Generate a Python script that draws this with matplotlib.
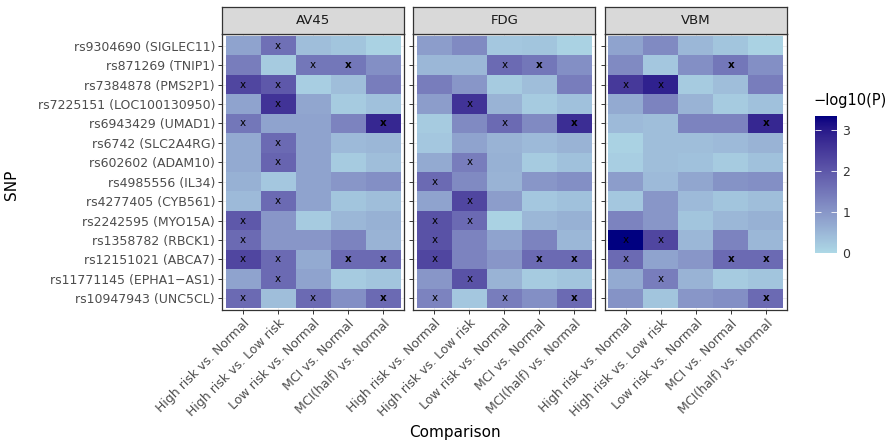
import numpy as np
import matplotlib
matplotlib.use('Agg')
import matplotlib.pyplot as plt
from matplotlib.colors import ListedColormap, Normalize
from matplotlib.colorbar import ColorbarBase

snps = ['rs9304690 (SIGLEC11)', 'rs871269 (TNIP1)', 'rs7384878 (PMS2P1)',
        'rs7225151 (LOC100130950)', 'rs6943429 (UMAD1)', 'rs6742 (SLC2A4RG)',
        'rs602602 (ADAM10)', 'rs4985556 (IL34)', 'rs4277405 (CYB561)',
        'rs2242595 (MYO15A)', 'rs1358782 (RBCK1)', 'rs12151021 (ABCA7)',
        'rs11771145 (EPHA1\u2212AS1)', 'rs10947943 (UNC5CL)']
comparisons = ['High risk vs. Normal', 'High risk vs. Low risk', 'Low risk vs. Normal',
               'MCI vs. Normal', 'MCI(half) vs. Normal']
panels = ['AV45', 'FDG', 'VBM']

# -log10(P), rows in snps order (top to bottom), columns in comparisons order
av45 = [[0.8, 1.6, 0.4, 0.3, 0.1],
        [1.4, 0.2, 1.5, 1.5, 1.1],
        [2.3, 2.0, 0.15, 0.4, 1.4],
        [0.8, 2.6, 0.75, 0.2, 0.35],
        [1.5, 0.8, 0.8, 1.3, 2.8],
        [0.7, 1.7, 0.8, 0.45, 0.5],
        [0.7, 1.8, 0.8, 0.2, 0.4],
        [0.6, 0.25, 0.8, 1.0, 1.1],
        [0.45, 1.7, 0.8, 0.3, 0.4],
        [2.0, 1.0, 0.2, 0.5, 0.6],
        [1.7, 1.0, 1.0, 1.3, 0.55],
        [2.3, 1.7, 0.7, 1.7, 1.7],
        [0.8, 1.7, 0.8, 0.2, 0.3],
        [1.7, 0.4, 1.7, 1.1, 1.7]]
fdg = [[0.9, 1.2, 0.25, 0.3, 0.1],
       [0.5, 0.5, 1.7, 1.5, 1.1],
       [1.4, 1.0, 0.2, 0.4, 1.4],
       [0.9, 2.6, 0.55, 0.2, 0.35],
       [0.2, 1.2, 1.7, 1.2, 2.7],
       [0.25, 0.8, 0.55, 0.45, 0.55],
       [0.7, 1.4, 0.6, 0.2, 0.35],
       [1.7, 1.2, 0.55, 1.0, 1.1],
       [0.8, 2.3, 0.9, 0.25, 0.35],
       [2.1, 1.7, 0.1, 0.5, 0.6],
       [2.1, 1.3, 0.8, 1.3, 0.5],
       [2.3, 1.3, 1.0, 1.7, 1.7],
       [1.0, 2.1, 0.55, 0.2, 0.3],
       [1.3, 0.25, 1.4, 1.1, 1.7]]
vbm = [[0.8, 1.2, 0.5, 0.3, 0.1],
       [1.2, 0.25, 1.1, 1.5, 1.1],
       [2.5, 2.9, 0.2, 0.4, 1.4],
       [0.7, 1.3, 0.55, 0.2, 0.35],
       [0.45, 0.4, 1.3, 1.3, 2.8],
       [0.1, 0.4, 0.4, 0.45, 0.55],
       [0.15, 0.4, 0.35, 0.2, 0.35],
       [0.9, 0.45, 0.75, 1.05, 1.1],
       [0.25, 1.0, 0.45, 0.3, 0.4],
       [1.3, 1.0, 0.3, 0.5, 0.6],
       [3.35, 2.3, 0.5, 1.3, 0.5],
       [1.7, 0.8, 1.0, 1.7, 1.7],
       [0.7, 1.4, 0.55, 0.2, 0.3],
       [1.05, 0.3, 1.0, 1.1, 1.7]]

# significance marks: 1 = x, 2 = bold x
av45_mark = [[0, 1, 0, 0, 0],
             [0, 0, 1, 2, 0],
             [1, 1, 0, 0, 0],
             [0, 1, 0, 0, 0],
             [1, 0, 0, 0, 2],
             [0, 1, 0, 0, 0],
             [0, 1, 0, 0, 0],
             [0, 0, 0, 0, 0],
             [0, 1, 0, 0, 0],
             [1, 0, 0, 0, 0],
             [1, 0, 0, 0, 0],
             [1, 1, 0, 2, 2],
             [0, 1, 0, 0, 0],
             [1, 0, 1, 0, 2]]
fdg_mark = [[0, 0, 0, 0, 0],
            [0, 0, 1, 2, 0],
            [0, 0, 0, 0, 0],
            [0, 1, 0, 0, 0],
            [0, 0, 1, 0, 2],
            [0, 0, 0, 0, 0],
            [0, 1, 0, 0, 0],
            [1, 0, 0, 0, 0],
            [0, 1, 0, 0, 0],
            [1, 1, 0, 0, 0],
            [1, 0, 0, 0, 0],
            [1, 0, 0, 2, 2],
            [0, 1, 0, 0, 0],
            [1, 0, 1, 0, 2]]
vbm_mark = [[0, 0, 0, 0, 0],
            [0, 0, 0, 2, 0],
            [1, 1, 0, 0, 0],
            [0, 0, 0, 0, 0],
            [0, 0, 0, 0, 2],
            [0, 0, 0, 0, 0],
            [0, 0, 0, 0, 0],
            [0, 0, 0, 0, 0],
            [0, 0, 0, 0, 0],
            [0, 0, 0, 0, 0],
            [1, 1, 0, 0, 0],
            [1, 0, 0, 2, 2],
            [0, 1, 0, 0, 0],
            [0, 0, 0, 0, 2]]


def srgb_to_lab(rgb):
    '''convert an sRGB triple (0-1) to CIE Lab'''
    c = np.array(rgb, dtype=float)
    c = np.where(c > 0.04045, ((c + 0.055) / 1.055) ** 2.4, c / 12.92)
    M = np.array([[0.4124, 0.3576, 0.1805],
                  [0.2126, 0.7152, 0.0722],
                  [0.0193, 0.1192, 0.9505]])
    xyz = M @ c / np.array([0.95047, 1.0, 1.08883])
    f = np.where(xyz > 0.008856, np.cbrt(xyz), 7.787 * xyz + 16 / 116)
    return np.array([116 * f[1] - 16, 500 * (f[0] - f[1]), 200 * (f[1] - f[2])])


def lab_to_srgb(lab):
    fy = (lab[0] + 16) / 116
    fx = fy + lab[1] / 500
    fz = fy - lab[2] / 200
    f = np.array([fx, fy, fz])
    xyz = np.where(f > 0.206897, f ** 3, (f - 16 / 116) / 7.787)
    xyz = xyz * np.array([0.95047, 1.0, 1.08883])
    Minv = np.array([[3.2406, -1.5372, -0.4986],
                     [-0.9689, 1.8758, 0.0415],
                     [0.0557, -0.2040, 1.0570]])
    c = Minv @ xyz
    c = np.where(c > 0.0031308, 1.055 * np.clip(c, 0, None) ** (1 / 2.4) - 0.055, 12.92 * c)
    return np.clip(c, 0, 1)


# ggplot-like gradient lightblue -> navy, interpolated in Lab
lo = srgb_to_lab(matplotlib.colors.to_rgb('lightblue'))
hi = srgb_to_lab(matplotlib.colors.to_rgb('navy'))
cmap = ListedColormap([lab_to_srgb(lo + (hi - lo) * t) for t in np.linspace(0, 1, 256)])

all_vals = np.array([av45, fdg, vbm])
norm = Normalize(vmin=0, vmax=all_vals.max())

fig = plt.figure(figsize=(8.87, 4.45), dpi=100)
W, H = 887, 445
left0, pw, gap = 222, 182, 9.5
ptop, pbot = 34, 310

for k, (name, vals, marks) in enumerate(zip(panels, [av45, fdg, vbm],
                                            [av45_mark, fdg_mark, vbm_mark])):
    x0 = left0 + k * (pw + gap)
    ax = fig.add_axes([x0 / W, 1 - pbot / H, pw / W, (pbot - ptop) / H])
    vals = np.array(vals)
    marks = np.array(marks)
    nr, nc = vals.shape
    # rows drawn bottom-up so the first SNP is on top
    ax.pcolormesh(np.arange(nc + 1) - 0.5, np.arange(nr + 1) - 0.5, vals[::-1],
                  cmap=cmap, norm=norm, zorder=2)
    for i in range(nr):
        for j in range(nc):
            if marks[i, j]:
                ax.text(j, nr - 1 - i, 'x', ha='center', va='center', fontsize=7.5,
                        fontweight='bold' if marks[i, j] == 2 else 'normal',
                        color='black', zorder=3)
    ax.set_xlim(-0.6, nc - 0.4)
    ax.set_ylim(-0.6, nr - 0.4)
    ax.set_xticks(range(nc))
    ax.set_yticks(range(nr))
    ax.grid(True, color='#ebebeb', lw=0.6, zorder=0)
    ax.set_axisbelow(True)
    for s in ax.spines.values():
        s.set_color('#333333')
        s.set_linewidth(0.9)
    ax.tick_params(length=3, width=0.7, color='#333333', labelcolor='#4d4d4d',
                   labelsize=9, pad=2)
    ax.set_xticklabels(comparisons, rotation=45, ha='right', rotation_mode='anchor')
    if k == 0:
        ax.set_yticklabels(snps[::-1])
    else:
        ax.set_yticklabels([])
    # facet strip
    sax = fig.add_axes([x0 / W, 1 - ptop / H, pw / W, 27 / H])
    sax.set_facecolor('#d9d9d9')
    sax.set_xticks([])
    sax.set_yticks([])
    for s in sax.spines.values():
        s.set_color('#333333')
        s.set_linewidth(0.9)
    sax.text(0.5, 0.5, name, ha='center', va='center', fontsize=9.5,
             color='#1a1a1a', transform=sax.transAxes)

fig.text(455 / W, 1 - 432 / H, 'Comparison', ha='center', va='center', fontsize=11)
fig.text(12 / W, 1 - 185 / H, 'SNP', ha='center', va='center', fontsize=11, rotation=90)

# colour bar
cax = fig.add_axes([815 / W, 1 - 253 / H, 22 / W, 137 / H])
cb = ColorbarBase(cax, cmap=cmap, norm=norm, ticks=[0, 1, 2, 3])
cb.outline.set_visible(False)
cax.yaxis.set_ticks_position('both')
cax.tick_params(length=4, width=0.6, color='white', labelcolor='#333333',
                labelsize=9, direction='in', pad=4, labelleft=False, labelright=True)
fig.text(813 / W, 1 - 100 / H, '\u2212log10(P)', ha='left', va='center', fontsize=10.5)

fig.savefig('out.png', dpi=100)
